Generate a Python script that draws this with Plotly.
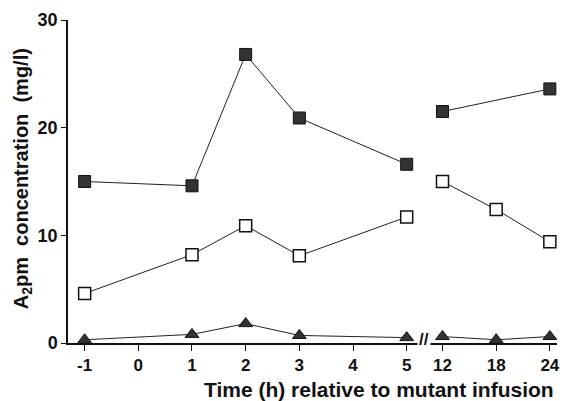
import plotly.graph_objects as go

# Data (hours relative to mutant infusion)
times_filled = [-1, 1, 2, 3, 5, 12, 24]
filled = [15.0, 14.6, 26.8, 20.9, 16.6, 21.5, 23.6]

times_open = [-1, 1, 2, 3, 5, 12, 18, 24]
open_sq = [4.6, 8.2, 10.9, 8.1, 11.7, 15.0, 12.4, 9.4]

times_tri = [-1, 1, 2, 3, 5, 12, 18, 24]
tri = [0.3, 0.8, 1.8, 0.7, 0.5, 0.6, 0.3, 0.6]

tick_times = [-1, 0, 1, 2, 3, 4, 5, 12, 18, 24]
tick_labels = ["-1", "0", "1", "2", "3", "4", "5", "12", "18", "24"]


def xpos(t):
    # broken axis: linear hours up to 5, then 6-hour steps after the break
    return t if t <= 5 else 5 + 36 / 54 + (t - 12) / 6


def split(ts, ys):
    xs, out = [], []
    prev = None
    for t, y in zip(ts, ys):
        if prev is not None and prev <= 5 < t:
            xs.append(None)
            out.append(None)
        xs.append(xpos(t))
        out.append(y)
        prev = t
    return xs, out


FONT = "Liberation Sans, Arial, sans-serif"
fig = go.Figure()

x, y = split(times_filled, filled)
fig.add_trace(go.Scatter(x=x, y=y, mode="lines+markers",
                         line=dict(color="#222", width=1),
                         marker=dict(symbol="square", size=12, color="#333",
                                     line=dict(color="#111", width=1))))
x, y = split(times_open, open_sq)
fig.add_trace(go.Scatter(x=x, y=y, mode="lines+markers",
                         line=dict(color="#222", width=1),
                         marker=dict(symbol="square", size=12, color="white",
                                     line=dict(color="#111", width=1.5))))
x, y = split(times_tri, tri)
fig.add_trace(go.Scatter(x=x, y=y, mode="lines+markers",
                         line=dict(color="#222", width=1),
                         marker=dict(symbol="triangle-up", size=12, color="#333",
                                     line=dict(color="#111", width=1))))

fig.update_layout(
    width=568, height=401,
    margin=dict(l=68, r=8, t=20, b=58),
    paper_bgcolor="white", plot_bgcolor="white",
    showlegend=False,
    font=dict(family=FONT, color="#111"),
    xaxis=dict(range=[-1.31, 7.8], tickvals=[xpos(t) for t in tick_times],
               ticktext=["<b>%s</b>" % s for s in tick_labels],
               showgrid=False, zeroline=False, showline=True, linecolor="#111",
               linewidth=1.5, ticks="outside", ticklen=6, tickwidth=1.2,
               tickcolor="#111", tickfont=dict(size=17, family=FONT, color="#111")),
    yaxis=dict(range=[0, 30], tickvals=[0, 10, 20, 30],
               ticktext=["<b>0</b>", "<b>10</b>", "<b>20</b>", "<b>30</b>"],
               showgrid=False, zeroline=False, showline=True, linecolor="#111",
               linewidth=1.5, ticks="outside", ticklen=5, tickwidth=1.2,
               tickcolor="#111", tickfont=dict(size=18, family=FONT, color="#111")),
    annotations=[
        dict(text="<b>A<sub>2</sub>pm  concentration  (mg/l)</b>", textangle=-90,
             xref="paper", yref="paper", x=(22 - 68) / 492, y=(343 - 179) / 323,
             xanchor="center", yanchor="middle",
             showarrow=False, font=dict(size=20, family=FONT, color="#111")),
        dict(text="<b>Time (h) relative to mutant infusion</b>",
             xref="paper", yref="paper", x=(381 - 68) / 492, y=-(389 - 343) / 323,
             xanchor="center", yanchor="middle",
             showarrow=False, font=dict(size=21, family=FONT, color="#111")),
        dict(text="<b>//</b>", xref="x", yref="paper", x=5.33, y=0.012,
             xanchor="center", yanchor="middle",
             showarrow=False, bgcolor="white", font=dict(size=17, family=FONT, color="#111")),
    ],
)

fig.write_html("out.html", config={"displayModeBar": False},
               post_script="document.body.style.margin='0';")
